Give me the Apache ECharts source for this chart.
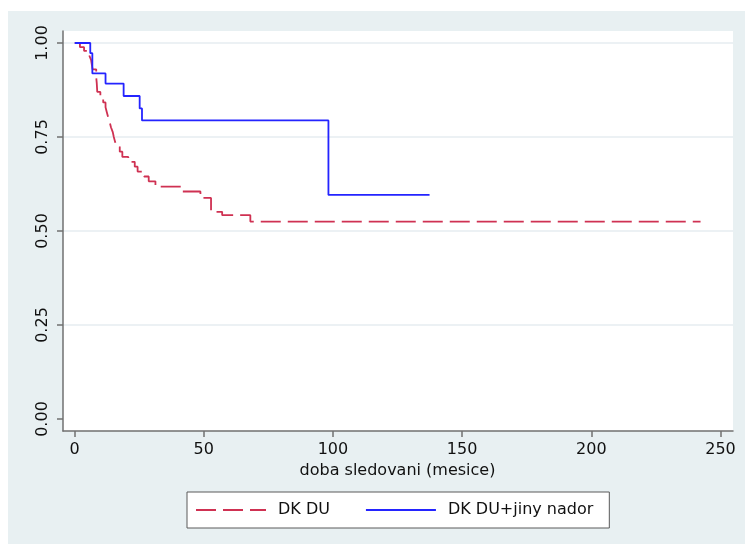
<!DOCTYPE html>
<html>
<head>
<meta charset="utf-8">
<script src="https://cdn.jsdelivr.net/npm/echarts@6/dist/echarts.min.js"></script>
<style>
  html, body { margin: 0; padding: 0; background: #ffffff; }
  #chart { position: absolute; left: 8px; top: 11px; width: 737px; height: 533px; }
</style>
</head>
<body>
<div id="chart"></div>
<script>
// Kaplan-Meier survival estimates by group (time in months)
const groupNames = ['DK DU', 'DK DU+jiny nador'];

const duTime = [0, 2.0, 3.6, 5.6, 6.3, 6.9, 8.3, 8.5, 8.7, 9.9, 11.0, 11.9, 12.4, 12.9, 13.5,
                14.0, 14.7, 15.1, 15.6, 16.3, 17.4, 18.4, 20.7, 23.2, 24.3, 26.8, 28.6, 31.2,
                41.6, 48.6, 49.6, 52.7, 57.0, 67.9, 242.0];
const duSurv = [1.000, 0.989, 0.979, 0.967, 0.955, 0.930, 0.908, 0.894, 0.870, 0.855, 0.842, 0.829, 0.816, 0.803, 0.790,
                0.776, 0.763, 0.750, 0.737, 0.724, 0.711, 0.697, 0.684, 0.671, 0.658, 0.645, 0.632, 0.618,
                0.605, 0.597, 0.588, 0.551, 0.542, 0.525, 0.525];

const nadorTime = [0, 6.0, 6.8, 11.9, 18.9, 25.1, 26.0, 98.1, 137.2];
const nadorSurv = [1.000, 0.973, 0.919, 0.892, 0.859, 0.826, 0.794, 0.596, 0.596];

// axis ticks
const xTicks = [0, 50, 100, 150, 200, 250];
const yTicks = [0, 0.25, 0.5, 0.75, 1.0];
const xTitle = 'doba sledovani (mesice)';

const pairs = (t, s) => t.map((v, i) => [v, s[i]]);

const FONT = 'DejaVu Sans';
const AXIS_GREY = '#707070';
const GRID_LINE = '#e6edf0';

// plot frame is padded beyond the tick range (about 11.5 px on each side)
const xStep = xTicks[1] - xTicks[0];
const xSpanPx = 646, ySpanPx = 376, padPx = 11.75;
const xMin = xTicks[0] - padPx * (xTicks[xTicks.length - 1] - xTicks[0]) / xSpanPx;
const xMax = xTicks[xTicks.length - 1] + padPx * (xTicks[xTicks.length - 1] - xTicks[0]) / xSpanPx;
const yMin = yTicks[0] - 12 * (yTicks[yTicks.length - 1] - yTicks[0]) / ySpanPx;
const yMax = yTicks[yTicks.length - 1] + 12 * (yTicks[yTicks.length - 1] - yTicks[0]) / ySpanPx;

const chart = echarts.init(document.getElementById('chart'), null, { renderer: 'canvas' });

chart.setOption({
  animation: false,
  backgroundColor: '#e8f0f2',
  textStyle: { fontFamily: FONT },
  grid: [
    // frame holding the curves
    { left: 55, right: 12, top: 20, bottom: 113, show: true, backgroundColor: '#ffffff', borderWidth: 0, z: -1 },
    // y ticks, labels and gridlines
    { left: 55, right: 12, top: 32, bottom: 125 },
    // x ticks and labels
    { left: 66.5, right: 24.5, top: 20, bottom: 113 }
  ],
  xAxis: [
    { gridIndex: 0, type: 'value', min: xMin, max: xMax,
      axisLine: { show: true, onZero: false, lineStyle: { color: AXIS_GREY, width: 1.5 } },
      axisTick: { show: false }, axisLabel: { show: false }, splitLine: { show: false } },
    { gridIndex: 1, type: 'value', min: 0, max: 1, show: false },
    { gridIndex: 2, type: 'value', min: xTicks[0], max: xTicks[xTicks.length - 1], interval: xStep,
      offset: 0,
      axisLine: { show: false, onZero: false },
      axisTick: { show: true, length: 6, lineStyle: { color: AXIS_GREY, width: 1.5 } },
      axisLabel: { show: true, color: '#111', fontSize: 16, fontFamily: FONT, margin: 11 },
      splitLine: { show: false },
      name: xTitle, nameLocation: 'middle', nameGap: 30,
      nameTextStyle: { color: '#111', fontSize: 16, fontFamily: FONT } }
  ],
  yAxis: [
    { gridIndex: 0, type: 'value', min: yMin, max: yMax,
      axisLine: { show: true, onZero: false, lineStyle: { color: AXIS_GREY, width: 1.5 } },
      axisTick: { show: false }, axisLabel: { show: false }, splitLine: { show: false } },
    { gridIndex: 1, type: 'value', min: yTicks[0], max: yTicks[yTicks.length - 1], interval: yTicks[1] - yTicks[0],
      axisLine: { show: false, onZero: false },
      axisTick: { show: true, length: 6, lineStyle: { color: AXIS_GREY, width: 1.5 } },
      axisLabel: { show: true, color: '#111', fontSize: 16, fontFamily: FONT, rotate: 90, margin: 12,
                   formatter: v => v.toFixed(2) },
      splitLine: { show: true, showMinLine: false, lineStyle: { color: GRID_LINE, width: 1.5 } } },
    { gridIndex: 2, type: 'value', min: 0, max: 1, show: false }
  ],
  legend: {
    left: 179, top: 481,
    orient: 'horizontal',
    backgroundColor: '#ffffff',
    borderColor: '#5a5a5a', borderWidth: 1, borderRadius: 0,
    padding: [10, 16, 10, 8],
    itemWidth: 70, itemHeight: 14, itemGap: 35,
    itemStyle: { color: 'transparent', borderWidth: 0, opacity: 0 },
    textStyle: { color: '#111', fontSize: 16, fontFamily: FONT, lineHeight: 16, padding: [0, 0, 0, 7] },
    data: groupNames
  },
  series: [
    { name: groupNames[0], type: 'line', step: 'end', xAxisIndex: 0, yAxisIndex: 0,
      symbol: 'none', showSymbol: false, z: 3,
      color: '#cf3152',
      lineStyle: { color: '#cf3152', width: 1.8, type: [20, 7] },
      data: pairs(duTime, duSurv) },
    { name: groupNames[1], type: 'line', step: 'end', xAxisIndex: 0, yAxisIndex: 0,
      symbol: 'none', showSymbol: false, z: 4,
      color: '#2424ff',
      lineStyle: { color: '#2424ff', width: 1.8, type: 'solid' },
      data: pairs(nadorTime, nadorSurv) }
  ]
});
</script>
</body>
</html>
